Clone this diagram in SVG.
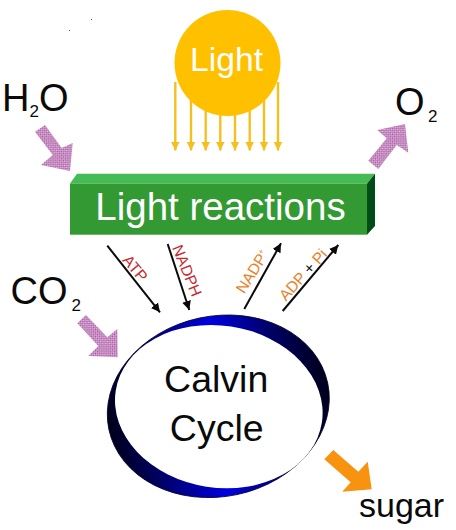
<svg xmlns="http://www.w3.org/2000/svg" width="456" height="530" viewBox="0 0 456 530">
<style>
text{font-family:"Liberation Sans",Arial,sans-serif}
.k{fill:#0a0a0a}
.w{fill:#fff}
.ray{stroke:#f4c020;stroke-width:2.4;fill:none;marker-end:url(#yh)}
.blk{stroke:#0a0a0a;stroke-width:2;fill:none;marker-end:url(#kh)}
.red{fill:#c8282e;font-size:15.5px}
.org{fill:#e8822a;font-size:15.5px}
.pur{fill:url(#chk)}
</style>
<defs>
<marker id="yh" markerUnits="userSpaceOnUse" markerWidth="10" markerHeight="10" refX="9" refY="4.5" orient="auto"><path d="M0 0L9 4.5L0 9Z" fill="#f4c020"/></marker>
<marker id="kh" markerUnits="userSpaceOnUse" markerWidth="10" markerHeight="10" refX="9" refY="4.5" orient="auto"><path d="M0 0L9 4.5L0 9Z" fill="#0a0a0a"/></marker>
<pattern id="chk" patternUnits="userSpaceOnUse" width="3" height="3" patternTransform="rotate(45)"><rect width="3" height="3" fill="#e2c2e2"/><rect width="1.5" height="1.5" fill="#a8549f"/><rect x="1.5" y="1.5" width="1.5" height="1.5" fill="#a8549f"/></pattern>
<linearGradient id="ring" gradientUnits="userSpaceOnUse" x1="107" y1="395" x2="330" y2="418"><stop offset="0" stop-color="#000018"/><stop offset=".18" stop-color="#00005a"/><stop offset=".5" stop-color="#0000e0"/><stop offset=".78" stop-color="#000060"/><stop offset="1" stop-color="#000018"/></linearGradient>
</defs>
<rect width="456" height="530" fill="#fff"/>
<g id="specks" fill="#555"><rect x="91" y="19" width="1" height="1"/><rect x="69" y="30" width="1" height="1"/></g>
<g id="connectors">
<path class="ray" d="M175.3 82V150.5"/><path class="ray" d="M191 100V150.5"/><path class="ray" d="M205.7 108V150.5"/><path class="ray" d="M220.3 112V150.5"/><path class="ray" d="M235 112V150.5"/><path class="ray" d="M249.7 108V150.5"/><path class="ray" d="M264 100V150.5"/><path class="ray" d="M278 82V150.5"/>
<path class="blk" d="M107.3 245.7L160 312.3"/><path class="blk" d="M167.7 244L189.3 310"/><path class="blk" d="M244.3 309L281 243.3"/><path class="blk" d="M282.7 311L338.3 245"/>
<polygon class="pur" points="35,131.7 45,125 61.7,148 72.7,143 70,171 41,165 52.7,155"/>
<polygon class="pur" points="77.3,323.3 86,315 107.3,337.3 117.3,329 117.7,357.3 88.3,356 98.3,346"/>
<polygon class="pur" points="368.3,160.7 378.3,169 396.7,145 408.3,152.7 405,124 377.3,130 386.7,138.3"/>
<polygon fill="#f7930e" points="324.3,459.3 333.3,450 358.3,471.7 367.7,461.7 371.7,489.3 342.3,491.7 350.7,482.3"/>
</g>
<g id="light"><circle cx="227.5" cy="63" r="53" fill="#ffc000"/><text class="w" x="226.5" y="71" font-size="33.7" text-anchor="middle">Light</text></g>
<g id="light-reactions">
<polygon points="70,183.5 77,173.7 375,173.7 367,183.5" fill="#44bb55"/>
<polygon points="367,183.5 375,173.7 375,226 367,234.7" fill="#004d18"/>
<rect x="70" y="183.5" width="297" height="51.2" fill="#339933"/>
<text class="w" x="220.5" y="220" font-size="38.5" text-anchor="middle">Light reactions</text>
</g>
<g id="h2o"><text class="k" x="2" y="110.7" font-size="38">H<tspan font-size="17" dy="6">2</tspan><tspan dy="-6">O</tspan></text></g>
<g id="co2"><text class="k" x="10.5" y="304" font-size="38">CO<tspan font-size="17" dy="7" dx="4">2</tspan></text></g>
<g id="o2"><text class="k" x="395" y="115" font-size="38">O<tspan font-size="17" dy="7" dx="3.5">2</tspan></text></g>
<g id="atp"><text class="red" transform="translate(135 268.5) rotate(50)" text-anchor="middle" y="5">ATP</text></g>
<g id="nadph"><text class="red" transform="translate(186.7 270.7) rotate(68)" text-anchor="middle" y="5">NADPH</text></g>
<g id="nadp"><text class="org" transform="translate(252.7 271.7) rotate(-58)" text-anchor="middle" y="5">NADP<tspan font-size="8" dy="-6">+</tspan></text></g>
<g id="adp"><text class="org" transform="translate(303.3 275) rotate(-48)" text-anchor="middle" y="5">ADP <tspan class="k">+</tspan> Pi</text></g>
<g id="calvin-cycle">
<ellipse cx="218.3" cy="406.3" rx="111.85" ry="90.26" transform="rotate(-12 218.3 406.3)" fill="url(#ring)" stroke="#000030" stroke-width=".8"/>
<ellipse cx="218.8" cy="406.6" rx="104.3" ry="81.1" transform="rotate(8.8 218.8 406.6)" fill="#fff"/>
<text class="k" x="216.2" y="392.3" font-size="37.5" text-anchor="middle">Calvin</text>
<text class="k" x="216.7" y="440.7" font-size="37.5" text-anchor="middle">Cycle</text>
</g>
<g id="sugar"><text class="k" x="359" y="517.3" font-size="34">sugar</text></g>
</svg>
